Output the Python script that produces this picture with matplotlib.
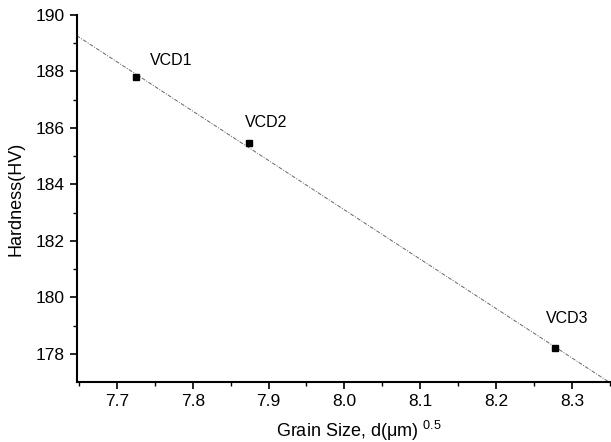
import numpy as np
import matplotlib
matplotlib.use("Agg")
import matplotlib.pyplot as plt

plt.rcParams['font.family'] = ['Liberation Sans', 'DejaVu Sans']
plt.rcParams['mathtext.fontset'] = 'custom'
plt.rcParams['mathtext.rm'] = 'Liberation Sans'
plt.rcParams['mathtext.it'] = 'Liberation Sans'

labels = ["VCD1", "VCD2", "VCD3"]
grain_size = [7.725, 7.874, 8.278]
hardness = [187.8, 185.45, 178.2]
label_offsets = [(10, 6.5), (-3, 9.7), (-7, 16)]  # points

x_ticks = [7.7, 7.8, 7.9, 8.0, 8.1, 8.2, 8.3]
y_ticks = [178, 180, 182, 184, 186, 188, 190]

fig = plt.figure(figsize=(6.11, 4.42), dpi=100)
ax = fig.add_axes([0.1255, 0.1357, 0.8725, 0.8303])

xlim = (7.647, 8.35)
ylim = (177.0, 190.0)

# linear fit
coef = np.polyfit(grain_size, hardness, 1)
xf = np.array(xlim)
ax.plot(xf, np.polyval(coef, xf), color='#666666', lw=0.7,
        linestyle=(0, (4, 1.5, 1, 1.5)), clip_on=True)

ax.plot(grain_size, hardness, 's', color='black', ms=5, zorder=3)

for lab, x, y, off in zip(labels, grain_size, hardness, label_offsets):
    ax.annotate(lab, (x, y), xytext=off, textcoords='offset points',
                fontsize=11.5, ha='left', va='bottom')

ax.set_xlim(*xlim)
ax.set_ylim(*ylim)
ax.set_xticks(x_ticks)
ax.set_xticklabels([f"{v:.1f}" for v in x_ticks])
ax.set_yticks(y_ticks)
ax.set_xticks(np.arange(7.65, 8.36, 0.1), minor=True)
ax.set_yticks(np.arange(179, 190, 2), minor=True)

for s in ['top', 'right']:
    ax.spines[s].set_visible(False)
for s in ['left', 'bottom']:
    ax.spines[s].set_linewidth(1.5)

ax.tick_params(which='major', direction='out', length=5, width=1.2, labelsize=12.5)
ax.tick_params(which='minor', direction='out', length=3, width=1.0)

ax.set_xlabel("Grain Size, d(\u03bcm) $^{\\mathrm{0.5}}$", fontsize=13)
ax.xaxis.set_label_coords(0.53, -0.10)
ax.set_ylabel("Hardness(HV)", fontsize=13, labelpad=8)

fig.savefig("out.png", dpi=100)
